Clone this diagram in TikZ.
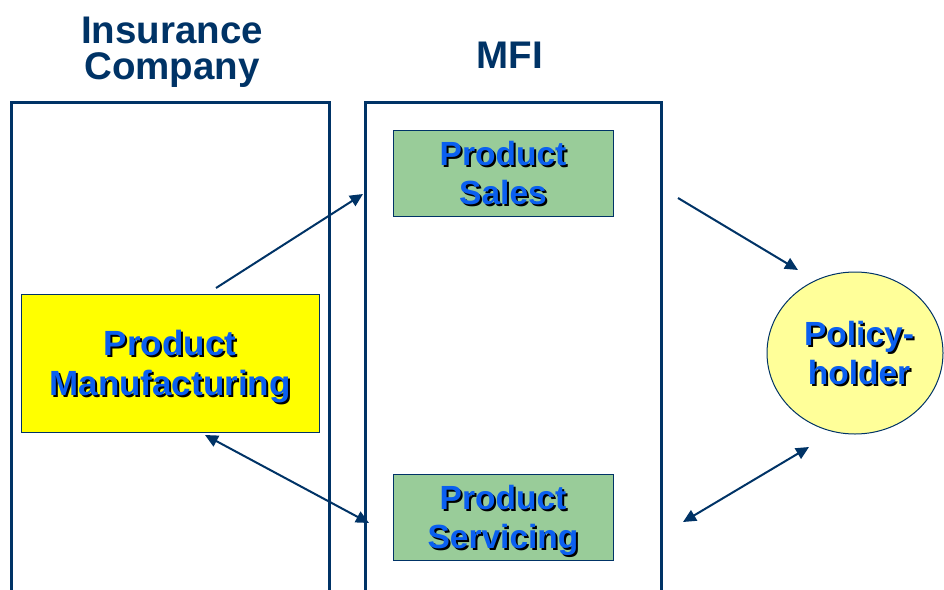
\documentclass[tikz,border=0pt]{standalone}
\usepackage{fontspec}
\setmainfont{Liberation Sans}
\usetikzlibrary{arrows.meta,shapes.geometric}
\definecolor{navy}{HTML}{003366}
\definecolor{txtblue}{HTML}{0A5FF0}
\definecolor{boxgreen}{HTML}{99CC99}
\definecolor{phyellow}{HTML}{FFFF99}
\definecolor{mfyellow}{HTML}{FFFF00}
\newcommand\shd[1]{\leavevmode\rlap{\kern2pt\raisebox{-2pt}{\color{black}#1}}#1}
\tikzset{
 titletext/.style={text=navy, font=\bfseries\fontsize{38.5}{36}\selectfont, align=center, inner sep=0pt},
 panel/.style={draw=navy, line width=3pt, anchor=north west, inner sep=0pt},
 boxtext/.style={text=txtblue, font=\bfseries\fontsize{33.5}{39}\selectfont, align=center, inner sep=0pt, text depth=0pt},
 stepbox/.style={boxtext, draw=navy, line width=1pt, fill=boxgreen, minimum width=220pt, minimum height=86pt},
 flow/.style={draw=navy, line width=2pt, -{Triangle[length=13pt,width=12pt]}},
 twoway/.style={draw=navy, line width=2pt, {Triangle[length=13pt,width=12pt]}-{Triangle[length=13pt,width=12pt]}},
}
\begin{document}
\begin{tikzpicture}[x=1pt,y=-1pt]
\useasboundingbox (0,0) rectangle (944,589);
% titles
\node[titletext] (tins) at (172,52) {Insurance\\Company};
\node[titletext] (tmfi) at (510,55) {MFI};
% panels (open at the bottom of the page)
\node[panel, minimum width=318pt, minimum height=530pt] (ins) at (10,101) {};
\node[panel, minimum width=296pt, minimum height=530pt] (mfi) at (364,101) {};
% boxes
\node[stepbox] (sales) at (503,173) {\shd{Product}\\\shd{Sales}};
\node[stepbox] (serv) at (503,517) {\shd{Product}\\\shd{Servicing}};
\node[boxtext, draw=navy, line width=1pt, fill=mfyellow, minimum width=298pt, minimum height=138pt, font=\bfseries\fontsize{35}{40}\selectfont] (manu) at (170,363) {\shd{Product}\\\shd{Manufacturing}};
\node[boxtext, ellipse, draw=navy, line width=1pt, fill=phyellow, minimum width=176pt, minimum height=162pt] (ph) at (855,353) {\hspace*{8pt}\shd{Policy-}\\\hspace*{8pt}\shd{holder}};
% connector end points
\coordinate (a1s) at (216,288);
\coordinate (a1e) at (363,194);
\coordinate (a2s) at (678,198);
\coordinate (a2e) at (798,270);
\coordinate (a3s) at (683,522);
\coordinate (a3e) at (809,447);
\coordinate (a4s) at (205,435);
\coordinate (a4e) at (369,523);
% connectors
\draw[flow] (a1s) -- (a1e);
\draw[flow] (a2s) -- (a2e);
\draw[twoway] (a3s) -- (a3e);
\draw[twoway] (a4s) -- (a4e);
\end{tikzpicture}
\end{document}
